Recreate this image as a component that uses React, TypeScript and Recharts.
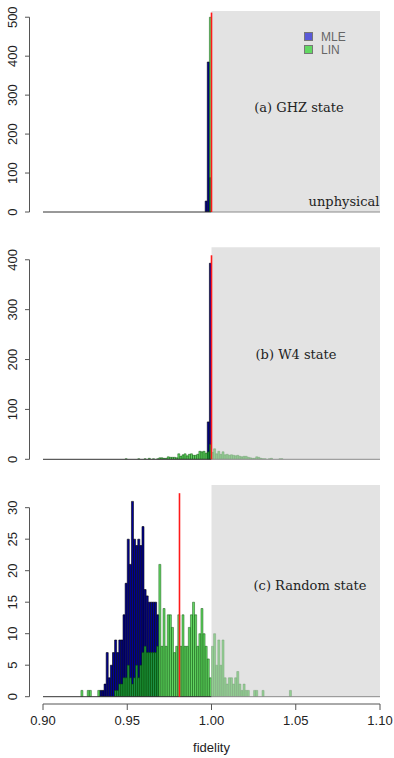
import React from 'react'
import { ComposedChart, Bar, Cell, XAxis, YAxis, ReferenceArea, ReferenceLine, Legend } from 'recharts'

// histogram bins: 160 bins of width 0.00125 between 0.90 and 1.10
const BIN_START = 0.9
const BIN_WIDTH = 0.00125
const BIN_COUNT = 160

const xTicks = [0.9, 0.95, 1.0, 1.05, 1.1]

// (a) GHZ state
const ghzMleStart = 0.99625
const ghzMle = [28, 385, 88]
const ghzLinStart = 0.99875
const ghzLin = [500]
const ghzTruth = 1.0
const ghzTicks = [0, 100, 200, 300, 400, 500]

// (b) W4 state
const w4MleStart = 0.9975
const w4Mle = [75, 393]
const w4LinStart = 0.94875
const w4Lin = [
  1, 0, 0, 0, 0, 0, 1, 0, 0, 1,
  0, 2, 0, 1, 0, 1, 3, 3, 2, 2,
  5, 4, 4, 4, 3, 11, 6, 9, 11, 7,
  10, 11, 8, 8, 10, 16, 15, 16, 12, 15,
  30, 14, 21, 11, 16, 10, 15, 9, 10, 8,
  9, 8, 7, 8, 6, 5, 6, 6, 4, 3,
  2, 2, 5, 4, 2, 1, 1, 0, 1, 2,
  0, 0, 0, 1, 1,
]
const w4Truth = 1.0
const w4Ticks = [0, 100, 200, 300, 400]

// (c) Random state
const rndMleStart = 0.93375
const rndMle = [
  1, 1, 2, 7, 3, 5, 7, 9, 7, 9,
  9, 13, 18, 25, 21, 31, 25, 24, 25, 24,
  27, 17, 16, 15, 15, 15, 15, 13,
]
const rndLinStart = 0.9225
const rndLin = [
  1, 0, 0, 1, 1, 0, 0, 0, 1, 0,
  0, 0, 0, 0, 0, 0, 1, 1, 2, 2,
  3, 3, 5, 3, 2, 3, 5, 3, 5, 7,
  8, 7, 7, 7, 7, 7, 8, 21, 8, 14,
  8, 13, 13, 11, 7, 8, 13, 8, 13, 8,
  8, 11, 13, 15, 13, 8, 10, 14, 10, 8,
  6, 3, 8, 10, 5, 9, 5, 9, 3, 2,
  3, 3, 2, 3, 4, 2, 1, 2, 1, 1,
  0, 0, 1, 1, 0, 0, 1, 0, 0, 0,
  0, 0, 0, 0, 0, 0, 0, 0, 0, 1,
]
const rndTruth = 0.981
const rndTicks = [0, 5, 10, 15, 20, 25, 30]

function buildRows(mleStart: number, mle: number[], linStart: number, lin: number[]) {
  const mOff = Math.round((mleStart - BIN_START) / BIN_WIDTH)
  const lOff = Math.round((linStart - BIN_START) / BIN_WIDTH)
  const rows = []
  for (let i = 0; i < BIN_COUNT; i++) {
    rows.push({
      x: BIN_START + (i + 0.5) * BIN_WIDTH,
      mle: mle[i - mOff] ?? 0,
      lin: lin[i - lOff] ?? 0,
    })
  }
  return rows
}

const AXIS = '#555'
const SANS = '"Liberation Sans", Arial, sans-serif'
const SERIF = '"DejaVu Serif", serif'

function makeYTick(pxPerUnit: number, topTick: number) {
  return (props: any) => {
    const { y, payload } = props
    return (
      <g>
        {payload.value === 0 && (
          <line x1={29.5} x2={29.5} y1={y} y2={y - topTick * pxPerUnit} stroke={AXIS} />
        )}
        <line x1={25} x2={29.5} y1={y} y2={y} stroke={AXIS} />
        <text
          x={12.5}
          y={y}
          transform={`rotate(-90 12.5 ${y})`}
          textAnchor="middle"
          dominantBaseline="central"
          fontFamily={SANS}
          fontSize={13}
          fill="#222"
        >
          {payload.value}
        </text>
      </g>
    )
  }
}

const XTick = (props: any) => {
  const { x, payload } = props
  const v = payload.value
  return (
    <g>
      {v === 0.9 && <line x1={x} x2={x + 337} y1={234} y2={234} stroke={AXIS} />}
      <line x1={x} x2={x} y1={234} y2={240} stroke={AXIS} />
      <text x={x} y={250} textAnchor="middle" dominantBaseline="central" fontFamily={SANS} fontSize={13} fill="#222">
        {v.toFixed(2)}
      </text>
      {v === 1 && (
        <text x={x} y={277} textAnchor="middle" dominantBaseline="central" fontFamily={SANS} fontSize={13} fill="#222">
          fidelity
        </text>
      )}
    </g>
  )
}

const LegendBox = () => (
  <div style={{ fontFamily: SANS, fontSize: 12, color: '#666', lineHeight: '12px' }}>
    {[
      ['MLE', '#5a5ad8'],
      ['LIN', '#62d862'],
    ].map(([name, c]) => (
      <div key={name} style={{ display: 'flex', alignItems: 'center', height: 13 }}>
        <span style={{ width: 7, height: 7, background: c, border: '1px solid #777', marginRight: 8 }} />
        {name}
      </div>
    ))}
  </div>
)

// bars in the unphysical region (fidelity > 1) are shown faded
const MLE_FILL = '#00009c'
const MLE_STROKE = '#000000'
const LIN_FILL = 'rgba(40,200,40,0.72)'
const LIN_STROKE = 'rgba(0,70,0,0.9)'
const LIN_FILL_FADED = '#93cf93'
const LIN_STROKE_FADED = '#7aa37a'

type PanelProps = {
  top: number
  height: number
  marginTop: number
  marginBottom: number
  yMax: number
  yTicks: number[]
  rows: any[]
  truth: number
  truthTop: number
  showX?: boolean
  showLegend?: boolean
}

function Panel(p: PanelProps) {
  const xAxisH = p.showX ? 61.3 : 0
  const plotH = p.height - p.marginTop - p.marginBottom - xAxisH
  const pxPerUnit = plotH / p.yMax
  return (
    <div style={{ position: 'absolute', left: 0, top: p.top }}>
      <ComposedChart
        width={394}
        height={p.height}
        data={p.rows}
        margin={{ top: p.marginTop, right: 14, bottom: p.marginBottom, left: 0 }}
        barCategoryGap={0}
        barGap={0}
      >
        <XAxis
          dataKey="x"
          type="number"
          domain={[0.9, 1.1]}
          ticks={xTicks}
          hide={!p.showX}
          height={xAxisH}
          axisLine={false}
          tickLine={false}
          tick={XTick}
          interval={0}
          allowDataOverflow
        />
        <XAxis xAxisId="lin" dataKey="x" type="number" domain={[0.9, 1.1]} hide allowDataOverflow />
        <YAxis
          type="number"
          domain={[0, p.yMax]}
          ticks={p.yTicks}
          width={43}
          axisLine={false}
          tickLine={false}
          tick={makeYTick(pxPerUnit, p.yTicks[p.yTicks.length - 1])}
          interval={0}
          allowDataOverflow
        />
        {p.showLegend && (
          <Legend
            layout="horizontal"
            verticalAlign="middle"
            align="center"
            content={LegendBox}
            wrapperStyle={{ position: 'absolute', top: 30, left: 304, width: 60 }}
          />
        )}
        <ReferenceArea
          x1={1}
          x2={1.1}
          y1={0}
          y2={p.yMax}
          fill="#e3e3e3"
          fillOpacity={1}
          stroke="none"
          ifOverflow="visible"
        />
        <Bar dataKey="mle" name="MLE" fill={MLE_FILL} stroke={MLE_STROKE} strokeWidth={0.6} isAnimationActive={false} />
        <Bar
          dataKey="lin"
          name="LIN"
          xAxisId="lin"
          fill={LIN_FILL}
          stroke={LIN_STROKE}
          strokeWidth={0.5}
          isAnimationActive={false}
        >
          {p.rows.map((r, i) => (
            <Cell
              key={i}
              fill={r.x > 1 ? LIN_FILL_FADED : LIN_FILL}
              stroke={r.x > 1 ? LIN_STROKE_FADED : LIN_STROKE}
            />
          ))}
        </Bar>
        <ReferenceLine segment={[{ x: 0.9, y: 0 }, { x: 1, y: 0 }]} stroke="#333" strokeWidth={1} />
        <ReferenceLine segment={[{ x: 1, y: 0 }, { x: 1.1, y: 0 }]} stroke="#8a8a8a" strokeWidth={1} />
        <ReferenceLine
          segment={[
            { x: p.truth, y: 0 },
            { x: p.truth, y: p.truthTop },
          ]}
          stroke="#ff1a1a"
          strokeWidth={1.6}
        />
      </ComposedChart>
    </div>
  )
}

const labelStyle: React.CSSProperties = {
  position: 'absolute',
  fontFamily: SERIF,
  fontSize: 13,
  color: '#222',
  whiteSpace: 'nowrap',
  transform: 'translate(-50%, -50%)',
}

export default function App() {
  return (
    <div style={{ position: 'absolute', left: 0, top: 0, width: 394, height: 758, background: '#fff' }}>
      <Panel
        top={0}
        height={230}
        marginTop={11}
        marginBottom={18}
        yMax={516}
        yTicks={ghzTicks}
        rows={buildRows(ghzMleStart, ghzMle, ghzLinStart, ghzLin)}
        truth={ghzTruth}
        truthTop={512}
        showLegend
      />
      <Panel
        top={230}
        height={240}
        marginTop={17.3}
        marginBottom={10.7}
        yMax={425}
        yTicks={w4Ticks}
        rows={buildRows(w4MleStart, w4Mle, w4LinStart, w4Lin)}
        truth={w4Truth}
        truthTop={409}
      />
      <Panel
        top={470}
        height={288}
        marginTop={15}
        marginBottom={0}
        yMax={33.6}
        yTicks={rndTicks}
        rows={buildRows(rndMleStart, rndMle, rndLinStart, rndLin)}
        truth={rndTruth}
        truthTop={32.3}
        showX
      />
      <div style={{ ...labelStyle, left: 299, top: 107 }}>(a) GHZ state</div>
      <div style={{ ...labelStyle, left: 296, top: 354 }}>(b) W4 state</div>
      <div style={{ ...labelStyle, left: 310, top: 585 }}>(c) Random state</div>
      <div style={{ ...labelStyle, left: 344, top: 201 }}>unphysical</div>
    </div>
  )
}
